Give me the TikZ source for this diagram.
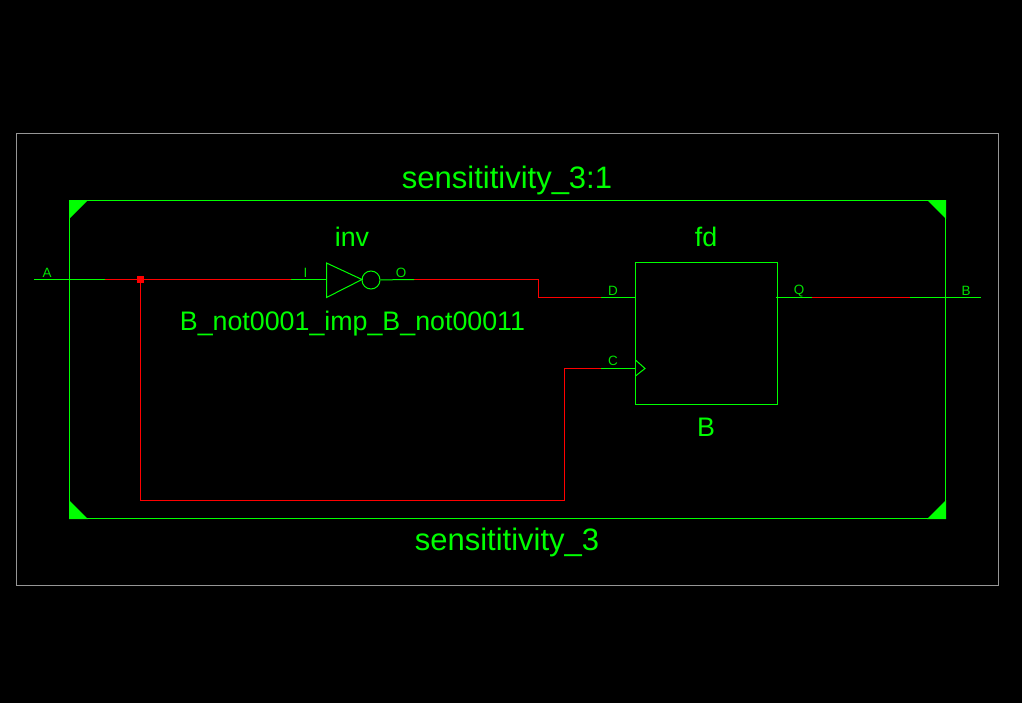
\documentclass[tikz,border=0pt]{standalone}
\usepackage{fontspec}
\setmainfont{Liberation Sans}
\definecolor{schgreen}{RGB}{0,255,0}
\definecolor{schtext}{RGB}{0,225,0}
\definecolor{schred}{RGB}{255,0,0}
\definecolor{schgray}{RGB}{150,150,150}
\tikzset{
	pin/.style={schgreen,line width=0.75pt},
	net/.style={schred,line width=0.75pt},
	bigtext/.style={text=schgreen,inner sep=0pt,font=\fontsize{23.25pt}{23.25pt}\selectfont},
	celltext/.style={text=schgreen,inner sep=0pt,font=\fontsize{20.1pt}{20.1pt}\selectfont},
	pintext/.style={text=schtext,inner sep=0pt,font=\fontsize{10.1pt}{10.1pt}\selectfont},
	corner/.style={fill=schgreen,draw=none},
}
\begin{document}
\begin{tikzpicture}[x=0.75pt,y=-0.75pt]
	\fill[black] (0,0) rectangle (1022,703);
	\useasboundingbox (0,0) rectangle (1022,703);
	\draw[schgray,line width=0.75pt] (16.5,133.5) rectangle (998.5,585.5);
	\draw[pin] (69.5,200.5) rectangle (945.5,518.5);
	\fill[corner] (69,200) -- (88,200) -- (69,219) -- cycle;
	\fill[corner] (946,200) -- (927,200) -- (946,219) -- cycle;
	\fill[corner] (69,519) -- (88,519) -- (69,500) -- cycle;
	\fill[corner] (946,519) -- (927,519) -- (946,500) -- cycle;
	\node[bigtext] (top) at (507,180) {sensititivity\_3:1};
	\node[bigtext] (bottom) at (507,542) {sensititivity\_3};
	% inverter
	\coordinate (invA) at (326.5,263);
	\coordinate (invB) at (326.5,297.5);
	\coordinate (invC) at (362,279.5);
	\draw[pin] (invA) -- (invB) -- (invC) -- cycle;
	\node[pin,draw,circle,inner sep=0pt,minimum size=13.5pt] (bubble) at (371,280) {};
	\node[celltext] (inv) at (352,237) {inv};
	\node[celltext] (imp) at (352.5,324) {B\_not0001\_imp\_B\_not00011};
	% flip flop
	\node[pin,draw,inner sep=0pt,minimum size=106.5pt] (fd) at (706.5,333.5) {};
	\node[celltext] (fdname) at (706,237) {fd};
	\node[celltext] (B) at (706,427) {B};
	\coordinate (clkA) at (635.5,360);
	\coordinate (clkB) at (645,368.5);
	\coordinate (clkC) at (635.5,376);
	\draw[pin] (clkA) -- (clkB) -- (clkC);
	% pin ends
	\coordinate (a0) at (34,279.5);
	\coordinate (a1) at (105,279.5);
	\coordinate (i0) at (291,279.5);
	\coordinate (i1) at (326.5,279.5);
	\coordinate (o1) at (414,279.5);
	\coordinate (d0) at (601,297.5);
	\coordinate (d1) at (635.5,297.5);
	\coordinate (c0) at (601,368.5);
	\coordinate (c1) at (635.5,368.5);
	\coordinate (q0) at (776,297.5);
	\coordinate (q1) at (812,297.5);
	\coordinate (b0) at (910,297.5);
	\coordinate (b1) at (981,297.5);
	\coordinate (n0) at (538.5,279.5);
	\coordinate (n1) at (538.5,297.5);
	\coordinate (n2) at (140.5,500.5);
	\coordinate (n3) at (564.5,500.5);
	\coordinate (n4) at (564.5,368.5);
	% wires
	\draw[net] (a1) -- (i0);
	\draw[net] (o1) -- (n0) -- (n1) -- (d0);
	\draw[net] (q1) -- (b0);
	\node[fill=schred,inner sep=0pt,minimum size=5.25pt] (dot) at (140.5,279.5) {};
	\draw[net] (dot) -- (n2) -- (n3) -- (n4) -- (c0);
	\draw[pin] (a0) -- (a1);
	\draw[pin] (i0) -- (i1);
	\draw[pin] (bubble) -- (o1);
	\draw[pin] (d0) -- (d1);
	\draw[pin] (c0) -- (c1);
	\draw[pin] (q0) -- (q1);
	\draw[pin] (b0) -- (b1);
	% pin labels
	\node[pintext] (lA) at (47,273) {A};
	\node[pintext] (lI) at (305.5,273) {I};
	\node[pintext] (lO) at (401,273) {O};
	\node[pintext] (lD) at (613,291) {D};
	\node[pintext] (lC) at (613,361) {C};
	\node[pintext] (lQ) at (799,291) {Q};
	\node[pintext] (lB) at (966,291) {B};
\end{tikzpicture}
\end{document}
